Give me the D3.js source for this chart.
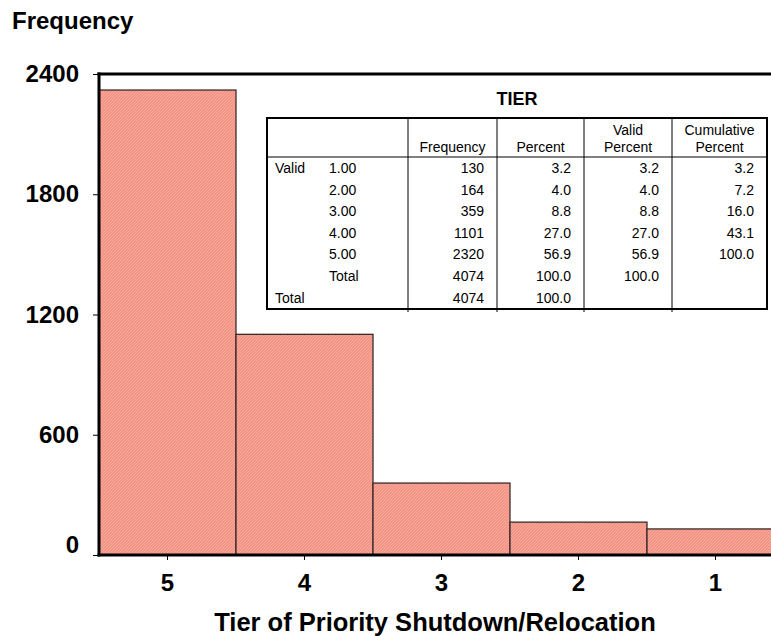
<!DOCTYPE html>
<html>
<head>
<meta charset="utf-8">
<script src="https://cdn.jsdelivr.net/npm/d3@7/dist/d3.min.js"></script>
<style>
  html, body { margin: 0; padding: 0; background: #fff; }
  svg { display: block; font-family: "Liberation Sans", Arial, sans-serif; }
</style>
</head>
<body>
<svg id="chart" width="771" height="636"></svg>
<script>
// ---- Chart data ----
const categories = ["5", "4", "3", "2", "1"];
const frequencies = [2320, 1101, 359, 164, 130];
const yTicks = [0, 600, 1200, 1800, 2400];
const yLabel = "Frequency";
const xLabel = "Tier of Priority Shutdown/Relocation";

// ---- Table data ----
const tableTitle = "TIER";
const tableHeaders = [["Frequency"], ["Percent"], ["Valid", "Percent"], ["Cumulative", "Percent"]];
const rowGroup = ["Valid", "", "", "", "", "", "Total"];
const rowLabels = ["1.00", "2.00", "3.00", "4.00", "5.00", "Total", ""];
const freqCol = ["130", "164", "359", "1101", "2320", "4074", "4074"];
const percentCol = ["3.2", "4.0", "8.8", "27.0", "56.9", "100.0", "100.0"];
const validPercentCol = ["3.2", "4.0", "8.8", "27.0", "56.9", "100.0", ""];
const cumulativeCol = ["3.2", "7.2", "16.0", "43.1", "100.0", "", ""];

const svg = d3.select("#chart");

// hatch pattern for bars
const defs = svg.append("defs");
const pat = defs.append("pattern")
  .attr("id", "hatch").attr("patternUnits", "userSpaceOnUse")
  .attr("width", 3).attr("height", 3);
pat.append("rect").attr("width", 3).attr("height", 3).attr("fill", "#f49384");
pat.append("path").attr("d", "M-1,1 l2,-2 M0,3 l3,-3 M2,4 l2,-2")
  .attr("stroke", "#f8ada1").attr("stroke-width", 1);

const plotLeft = 99, plotRight = 784, plotTop = 74, plotBottom = 555;

const x = d3.scaleBand().domain(categories).range([plotLeft, plotRight]).padding(0);
const y = d3.scaleLinear().domain([0, 2400]).range([plotBottom, plotTop]);

// bars
svg.append("g").selectAll("rect")
  .data(categories.map((c, i) => ({ c, v: frequencies[i] })))
  .join("rect")
  .attr("x", d => x(d.c))
  .attr("y", d => y(d.v))
  .attr("width", x.bandwidth())
  .attr("height", d => y(0) - y(d.v))
  .attr("fill", "url(#hatch)")
  .attr("stroke", "#3a2c2c")
  .attr("stroke-width", 1.3);

// y axis
const yAxis = svg.append("g")
  .attr("transform", `translate(${plotLeft},0)`)
  .call(d3.axisLeft(y).tickValues(yTicks).tickSize(6).tickPadding(14).tickFormat(d3.format("d")));
yAxis.select(".domain").remove();
yAxis.selectAll(".tick line").attr("stroke", "#000").attr("stroke-width", 1);
yAxis.selectAll(".tick text")
  .attr("font-size", 24).attr("font-weight", "bold").attr("fill", "#000")
  .attr("font-family", "'Liberation Sans', Arial, sans-serif");
yAxis.selectAll(".tick").filter(d => d === 0).select("text").attr("dy", "-0.1em");

// x axis
const xAxis = svg.append("g")
  .attr("transform", `translate(0,${plotBottom})`)
  .call(d3.axisBottom(x).tickSize(5).tickPadding(14));
xAxis.select(".domain").remove();
xAxis.selectAll(".tick line").attr("stroke", "#000").attr("stroke-width", 1);
xAxis.selectAll(".tick text")
  .attr("font-size", 24).attr("font-weight", "bold").attr("fill", "#000")
  .attr("font-family", "'Liberation Sans', Arial, sans-serif");

// frame lines (left, top, bottom)
svg.append("line").attr("x1", plotLeft).attr("x2", plotLeft).attr("y1", plotTop - 1.5).attr("y2", plotBottom + 1.5)
  .attr("stroke", "#000").attr("stroke-width", 3);
svg.append("line").attr("x1", plotLeft - 1.5).attr("x2", 771).attr("y1", plotTop).attr("y2", plotTop)
  .attr("stroke", "#000").attr("stroke-width", 3);
svg.append("line").attr("x1", plotLeft - 1.5).attr("x2", 771).attr("y1", plotBottom).attr("y2", plotBottom)
  .attr("stroke", "#000").attr("stroke-width", 3);

// axis titles
svg.append("text").attr("x", 12).attr("y", 29)
  .attr("font-size", 24).attr("font-weight", "bold").text(yLabel);
svg.append("text").attr("x", 435).attr("y", 631).attr("text-anchor", "middle")
  .attr("font-size", 25.5).attr("font-weight", "bold").text(xLabel);

// ---- Table ----
const tb = { left: 267, right: 767, top: 118, headBottom: 157, bottom: 309 };
const colEdges = [tb.left, 408, 497, 584, 672, tb.right];
const tg = svg.append("g").attr("font-size", 14).attr("fill", "#000");

tg.append("rect").attr("x", tb.left).attr("y", tb.top)
  .attr("width", tb.right - tb.left).attr("height", tb.bottom - tb.top)
  .attr("fill", "#fff").attr("stroke", "#000").attr("stroke-width", 2);
tg.append("line").attr("x1", tb.left).attr("x2", tb.right)
  .attr("y1", tb.headBottom).attr("y2", tb.headBottom).attr("stroke", "#000").attr("stroke-width", 1);
colEdges.slice(1, 5).forEach(cx => {
  tg.append("line").attr("x1", cx).attr("x2", cx).attr("y1", tb.top).attr("y2", tb.bottom + 3)
    .attr("stroke", "#000").attr("stroke-width", 1);
});

svg.append("text").attr("x", (tb.left + tb.right) / 2).attr("y", 105)
  .attr("text-anchor", "middle").attr("font-size", 18).attr("font-weight", "bold").text(tableTitle);

// header texts
tableHeaders.forEach((lines, i) => {
  const cx = (colEdges[i + 1] + colEdges[i + 2]) / 2;
  const baseY = 152 - (lines.length - 1) * 17;
  lines.forEach((ln, j) => {
    tg.append("text").attr("x", cx).attr("y", baseY + j * 17)
      .attr("text-anchor", "middle").text(ln);
  });
});

// body rows
const rowY0 = 173, rowStep = 21.6;
const valueCols = [freqCol, percentCol, validPercentCol, cumulativeCol];
rowLabels.forEach((lab, r) => {
  const yy = rowY0 + r * rowStep;
  if (rowGroup[r]) tg.append("text").attr("x", 275).attr("y", yy).text(rowGroup[r]);
  if (lab) tg.append("text").attr("x", 329).attr("y", yy).text(lab);
  valueCols.forEach((col, c) => {
    if (col[r]) tg.append("text").attr("x", colEdges[c + 2] - 13).attr("y", yy)
      .attr("text-anchor", "end").text(col[r]);
  });
});
</script>
</body>
</html>
